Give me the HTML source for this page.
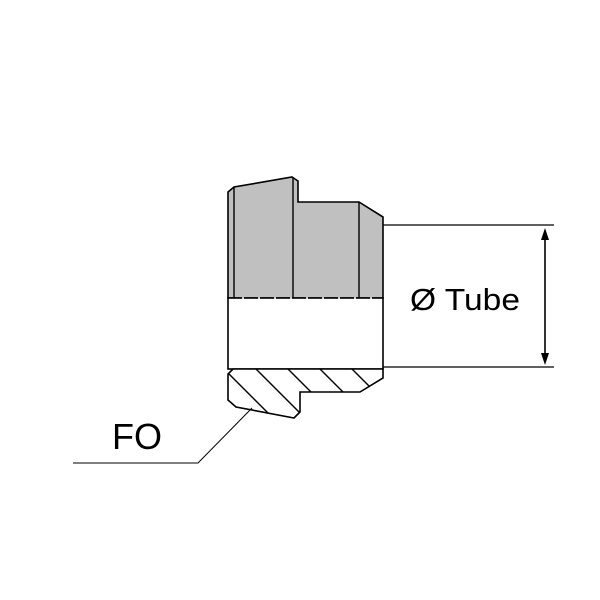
<!DOCTYPE html>
<html><head><style>html,body{margin:0;padding:0;background:#fff}svg{display:block}</style></head>
<body>
<svg width="600" height="600" viewBox="0 0 600 600" xmlns="http://www.w3.org/2000/svg">
<defs>
<clipPath id="hc"><path d="M233,369 L383,369 L383,378 L360,392 L300,392 L300,412 L294,418 L236,407 L228,400 L228,374 Z"/></clipPath>
</defs>
<path d="M228,298 L228,192 L234,187 L292,177 L298,181 L298,202 L359,202 L383,217 L383,298 Z" fill="#c0c0c0" stroke="#000" stroke-width="1.6"/>
<line x1="234" y1="187" x2="234" y2="298" stroke="#000" stroke-width="1.4"/>
<line x1="293" y1="178" x2="293" y2="298" stroke="#000" stroke-width="1.4"/>
<line x1="359" y1="202" x2="359" y2="298" stroke="#000" stroke-width="1.4"/>
<rect x="228" y="298" width="155" height="71" fill="#fff" stroke="#000" stroke-width="1.6"/>
<line x1="228" y1="298" x2="383" y2="298" stroke="#fff" stroke-width="1.6" stroke-dasharray="2,14" stroke-dashoffset="-14"/>
<path d="M233,369 L383,369 L383,378 L360,392 L300,392 L300,412 L294,418 L236,407 L228,400 L228,374 Z" fill="#fff" stroke="#000" stroke-width="1.6"/>
<g clip-path="url(#hc)" stroke="#000" stroke-width="1.4">
<line x1="205" y1="350" x2="290" y2="435"/>
<line x1="237" y1="350" x2="322" y2="435"/>
<line x1="269" y1="350" x2="354" y2="435"/>
<line x1="301" y1="350" x2="386" y2="435"/>
<line x1="333" y1="350" x2="418" y2="435"/>
<line x1="365" y1="350" x2="450" y2="435"/>
<line x1="205" y1="386" x2="240" y2="421"/>
</g>
<line x1="383" y1="225" x2="554" y2="225" stroke="#000" stroke-width="1.2"/>
<line x1="383" y1="367" x2="554" y2="367" stroke="#000" stroke-width="1.2"/>
<line x1="545" y1="234" x2="545" y2="358" stroke="#000" stroke-width="1.6"/>
<path d="M545,228 L541,240 L549,240 Z M545,365 L541,353 L549,353 Z" fill="#000"/>
<text x="410" y="310" font-family="Liberation Sans, sans-serif" font-size="31" textLength="110" lengthAdjust="spacingAndGlyphs">Ø Tube</text>
<polyline points="73,463 198,463 252,408" fill="none" stroke="#000" stroke-width="1"/>
<text x="112" y="449" font-family="Liberation Sans, sans-serif" font-size="36">FO</text>
</svg>
</body></html>
